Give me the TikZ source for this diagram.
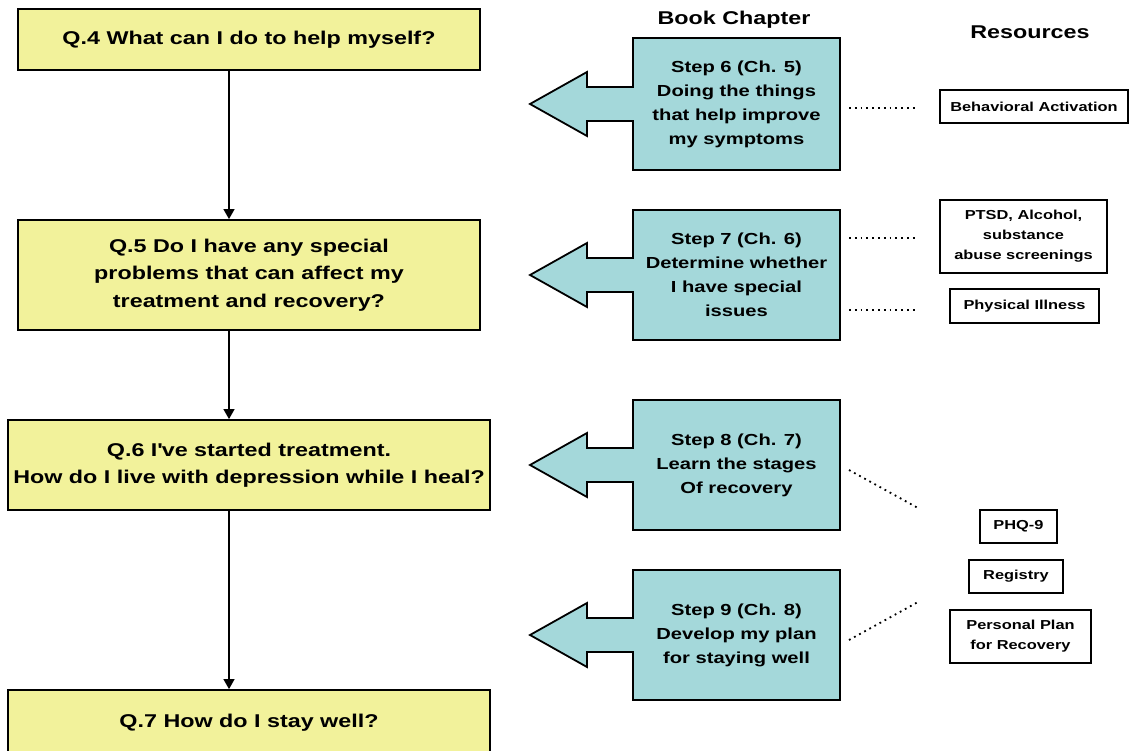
\documentclass[tikz,border=0pt]{standalone}
\usepackage{fontspec}
\setmainfont{Liberation Sans}[FakeStretch=1.26]
\usepackage{tikz}
\usetikzlibrary{positioning,arrows.meta}
\definecolor{questionColor}{RGB}{242,242,155}
\definecolor{stepColor}{RGB}{164,216,218}
\tikzstyle{chart} = [x = 1pt, y = -1pt]
\tikzstyle{questionBox} = [draw=black, fill=questionColor, line width=1.8pt, align=center, inner sep=0pt, font=\bfseries\fontsize{18.5}{27.5}\selectfont]
\tikzstyle{stepStyle} = [draw=black, fill=stepColor, line width=1.8pt, line join=miter]
\tikzstyle{stepText} = [align=center, font=\bfseries\fontsize{16}{24}\selectfont]
\tikzstyle{resourceBox} = [draw=black, fill=white, line width=1.2pt, align=center, inner sep=0pt, font=\bfseries\fontsize{13}{20}\selectfont]
\tikzstyle{headText} = [font=\bfseries\fontsize{18.5}{22}\selectfont]
\tikzstyle{flowLine} = [line width=1.4pt, -{Triangle[width=11pt, length=10pt]}]
\tikzstyle{dotLine} = [line width=1.8pt, dash pattern=on 1.8pt off 4pt]
\newcommand{\stepArrow}[4]{
  \pgfmathsetmacro{\midY}{(#2 + #3) / 2}
  \filldraw [stepStyle] (633,#2) -- (840,#2) -- (840,#3) -- (633,#3) -- (633,\midY + 17) -- (587,\midY + 17) -- (587,\midY + 32) -- (530,\midY) -- (587,\midY - 32) -- (587,\midY - 17) -- (633,\midY - 17) -- cycle;
  \node [stepText] (#1) at (736.5,\midY) {#4};
}
\newcommand{\questionNode}[6]{\node [questionBox, minimum width=#4, minimum height=#5] (#1) at (#2,#3) {#6};}
\newcommand{\resourceNode}[6]{\node [resourceBox, minimum width=#4, minimum height=#5] (#1) at (#2,#3) {#6};}
\begin{document}
\begin{tikzpicture}[chart]
        \useasboundingbox [fill=white] (0,0) rectangle (1133,751);

        % questions
        \questionNode{q4}{249}{39.5}{462pt}{61pt}{Q.4 What can I do to help myself?}
        \questionNode{q5}{249}{275}{462pt}{110pt}{Q.5 Do I have any special\\problems that can affect my\\treatment and recovery?}
        \questionNode{q6}{249}{465}{482pt}{90pt}{Q.6 I\textquotesingle ve started treatment.\\How do I live with depression while I heal?}
        \questionNode{q7}{249}{723}{482pt}{66pt}{Q.7 How do I stay well?}
        \draw [flowLine] (q4.south -| 229,0) -- (q5.north -| 229,0);
        \draw [flowLine] (q5.south -| 229,0) -- (q6.north -| 229,0);
        \draw [flowLine] (q6.south -| 229,0) -- (q7.north -| 229,0);

        % book chapters
        \node [headText] (chapterHead) at (734,20) {Book Chapter};
        \stepArrow{step6}{38}{170}{Step 6 (Ch. 5)\\Doing the things\\that help improve\\my symptoms}
        \stepArrow{step7}{210}{340}{Step 7 (Ch. 6)\\Determine whether\\I have special\\issues}
        \stepArrow{step8}{400}{530}{Step 8 (Ch. 7)\\Learn the stages\\Of recovery}
        \stepArrow{step9}{570}{700}{Step 9 (Ch. 8)\\Develop my plan\\for staying well}

        % resources
        \node [headText] (resourceHead) at (1030,32) {Resources};
        \resourceNode{behav}{1034}{106.5}{188pt}{33pt}{Behavioral Activation}
        \resourceNode{ptsd}{1023.5}{236.5}{167pt}{73pt}{PTSD, Alcohol,\\substance\\abuse screenings}
        \resourceNode{illness}{1024.5}{306}{149pt}{34pt}{Physical Illness}
        \resourceNode{phq}{1018.5}{526.5}{77pt}{33pt}{PHQ-9}
        \resourceNode{registry}{1016}{576.5}{94pt}{33pt}{Registry}
        \resourceNode{plan}{1020.5}{636.5}{141pt}{53pt}{Personal Plan\\for Recovery}

        % dotted links
        \coordinate (d1a) at (849,108);  \coordinate (d1b) at (918,108);
        \coordinate (d2a) at (849,238);  \coordinate (d2b) at (918,238);
        \coordinate (d3a) at (849,310);  \coordinate (d3b) at (918,310);
        \coordinate (d4a) at (849,470);  \coordinate (d4b) at (918,508);
        \coordinate (d5a) at (849,640);  \coordinate (d5b) at (918,602);
        \foreach \from/\to in {d1a/d1b, d2a/d2b, d3a/d3b, d4a/d4b, d5a/d5b}
          \draw [dotLine] (\from) -- (\to);
      \end{tikzpicture}
\end{document}
